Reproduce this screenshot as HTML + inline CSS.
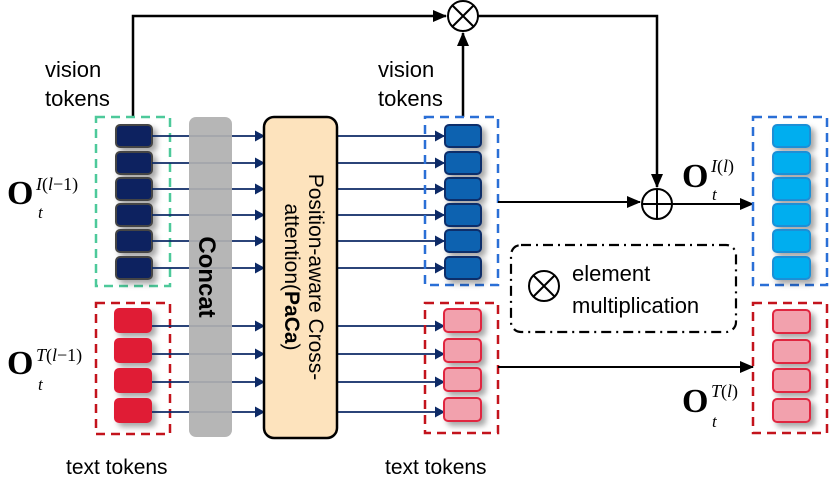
<!DOCTYPE html>
<html><head><meta charset="utf-8"><style>
html,body{margin:0;padding:0;background:#fff}
svg{display:block}
.s{font-family:"Liberation Sans",sans-serif;fill:#000}
.m{font-family:"Liberation Serif",serif;font-style:italic;fill:#000}
.O{font-family:"Liberation Serif",serif;font-weight:bold;fill:#000}
</style></head><body>
<svg width="830" height="482" viewBox="0 0 830 482" xmlns="http://www.w3.org/2000/svg">
<defs>
<marker id="an" markerWidth="10" markerHeight="11" refX="9" refY="5.5" orient="auto" markerUnits="userSpaceOnUse"><path d="M0,0 L10,5.5 L0,11 z" fill="#0d2a66"/></marker>
<marker id="ak" markerWidth="14" markerHeight="12" refX="13" refY="6" orient="auto" markerUnits="userSpaceOnUse"><path d="M0,0 L14,6 L0,12 z" fill="#000"/></marker>
<filter id="sh" x="-50%" y="-50%" width="200%" height="200%"><feDropShadow dx="4" dy="4" stdDeviation="3" flood-color="#000" flood-opacity="0.35"/></filter>
</defs>

<polyline points="133,117 133,16 446,16" fill="none" stroke="#000" stroke-width="2.5" marker-end="url(#ak)"/>
<circle cx="463" cy="16" r="15" fill="#fff" stroke="#000" stroke-width="2"/>
<line x1="453" y1="6" x2="473" y2="26" stroke="#000" stroke-width="2"/>
<line x1="473" y1="6" x2="453" y2="26" stroke="#000" stroke-width="2"/>
<line x1="463" y1="117" x2="463" y2="33" stroke="#000" stroke-width="2.5" marker-end="url(#ak)"/>
<polyline points="478,16 657,16 657,187" fill="none" stroke="#000" stroke-width="2.5" marker-end="url(#ak)"/>

<text class="s" x="45" y="77" font-size="22">vision</text>
<text class="s" x="45" y="106" font-size="22">tokens</text>
<text class="s" x="378" y="77" font-size="22">vision</text>
<text class="s" x="378" y="106" font-size="22">tokens</text>

<rect x="96" y="117" width="74" height="169" fill="none" stroke="#4dc99a" stroke-width="2.5" stroke-dasharray="9,6"/>
<rect x="96" y="303" width="74" height="131" fill="none" stroke="#c3131c" stroke-width="2.5" stroke-dasharray="9,6"/>
<g filter="url(#sh)" fill="#0b2260" stroke="#444" stroke-width="2">
<rect x="116" y="125" width="36" height="22" rx="4"/><rect x="116" y="152" width="36" height="22" rx="4"/>
<rect x="116" y="178" width="36" height="22" rx="4"/><rect x="116" y="204" width="36" height="22" rx="4"/>
<rect x="116" y="230" width="36" height="22" rx="4"/><rect x="116" y="257" width="36" height="22" rx="4"/>
</g>
<g filter="url(#sh)" fill="#e01b36">
<rect x="114" y="308" width="38" height="25" rx="5"/><rect x="114" y="338" width="38" height="25" rx="5"/>
<rect x="114" y="368" width="38" height="25" rx="5"/><rect x="114" y="398" width="38" height="25" rx="5"/>
</g>

<g stroke="#0d2a66" stroke-width="1.8" fill="none">
<line x1="152" y1="136" x2="264" y2="136" marker-end="url(#an)"/>
<line x1="152" y1="163" x2="264" y2="163" marker-end="url(#an)"/>
<line x1="152" y1="189" x2="264" y2="189" marker-end="url(#an)"/>
<line x1="152" y1="215" x2="264" y2="215" marker-end="url(#an)"/>
<line x1="152" y1="241" x2="264" y2="241" marker-end="url(#an)"/>
<line x1="152" y1="268" x2="264" y2="268" marker-end="url(#an)"/>
<line x1="152" y1="326" x2="264" y2="326" marker-end="url(#an)"/>
<line x1="152" y1="354" x2="264" y2="354" marker-end="url(#an)"/>
<line x1="152" y1="382" x2="264" y2="382" marker-end="url(#an)"/>
<line x1="152" y1="412" x2="264" y2="412" marker-end="url(#an)"/>
<line x1="337" y1="136" x2="444" y2="136" marker-end="url(#an)"/>
<line x1="337" y1="163" x2="444" y2="163" marker-end="url(#an)"/>
<line x1="337" y1="189" x2="444" y2="189" marker-end="url(#an)"/>
<line x1="337" y1="215" x2="444" y2="215" marker-end="url(#an)"/>
<line x1="337" y1="241" x2="444" y2="241" marker-end="url(#an)"/>
<line x1="337" y1="268" x2="444" y2="268" marker-end="url(#an)"/>
<line x1="337" y1="326" x2="444" y2="326" marker-end="url(#an)"/>
<line x1="337" y1="354" x2="444" y2="354" marker-end="url(#an)"/>
<line x1="337" y1="382" x2="444" y2="382" marker-end="url(#an)"/>
<line x1="337" y1="412" x2="444" y2="412" marker-end="url(#an)"/>
</g>

<rect x="189" y="117" width="43" height="320" rx="7" fill="#b0b0b0" opacity="0.92"/>
<text class="s" font-size="24" font-weight="bold" transform="translate(199,277) rotate(90)" text-anchor="middle">Concat</text>

<rect x="264" y="117" width="73" height="321" rx="10" fill="#fde3bd" stroke="#000" stroke-width="2.5"/>
<text class="s" font-size="21" transform="translate(309,277) rotate(90)" text-anchor="middle">Position-aware Cross-</text>
<text class="s" font-size="21" transform="translate(285,277) rotate(90)" text-anchor="middle">attention(<tspan font-weight="bold">PaCa</tspan>)</text>

<rect x="425" y="117" width="73" height="168" fill="none" stroke="#2a6fd6" stroke-width="2.5" stroke-dasharray="9,6"/>
<rect x="425" y="303" width="73" height="130" fill="none" stroke="#c3131c" stroke-width="2.5" stroke-dasharray="9,6"/>
<g filter="url(#sh)" fill="#0a62b0" stroke="#0c2d6b" stroke-width="2">
<rect x="445" y="125" width="36" height="22" rx="4"/><rect x="445" y="152" width="36" height="22" rx="4"/>
<rect x="445" y="178" width="36" height="22" rx="4"/><rect x="445" y="204" width="36" height="22" rx="4"/>
<rect x="445" y="230" width="36" height="22" rx="4"/><rect x="445" y="257" width="36" height="22" rx="4"/>
</g>
<g filter="url(#sh)" fill="#f2a1ad" stroke="#e0263f" stroke-width="2">
<rect x="444" y="309" width="37" height="23" rx="4"/><rect x="444" y="339" width="37" height="23" rx="4"/>
<rect x="444" y="368" width="37" height="23" rx="4"/><rect x="444" y="398" width="37" height="23" rx="4"/>
</g>

<line x1="498" y1="202" x2="640" y2="202" stroke="#000" stroke-width="2" marker-end="url(#ak)"/>
<circle cx="657" cy="204" r="15" fill="#fff" stroke="#000" stroke-width="2"/>
<line x1="642" y1="204" x2="672" y2="204" stroke="#000" stroke-width="2"/>
<line x1="657" y1="189" x2="657" y2="219" stroke="#000" stroke-width="2"/>
<line x1="672" y1="204" x2="753" y2="204" stroke="#000" stroke-width="2" marker-end="url(#ak)"/>
<line x1="498" y1="367" x2="753" y2="367" stroke="#000" stroke-width="2" marker-end="url(#ak)"/>

<rect x="753" y="117" width="74" height="168" fill="none" stroke="#2a6fd6" stroke-width="2.5" stroke-dasharray="9,6"/>
<rect x="753" y="303" width="74" height="130" fill="none" stroke="#c3131c" stroke-width="2.5" stroke-dasharray="9,6"/>
<g filter="url(#sh)" fill="#00aeef" stroke="#1a8fd6" stroke-width="2">
<rect x="773" y="125" width="37" height="22" rx="4"/><rect x="773" y="152" width="37" height="22" rx="4"/>
<rect x="773" y="178" width="37" height="22" rx="4"/><rect x="773" y="204" width="37" height="22" rx="4"/>
<rect x="773" y="230" width="37" height="22" rx="4"/><rect x="773" y="257" width="37" height="22" rx="4"/>
</g>
<g filter="url(#sh)" fill="#f2a1ad" stroke="#e0263f" stroke-width="2">
<rect x="773" y="310" width="37" height="23" rx="4"/><rect x="773" y="340" width="37" height="23" rx="4"/>
<rect x="773" y="369" width="37" height="23" rx="4"/><rect x="773" y="399" width="37" height="23" rx="4"/>
</g>

<rect x="511" y="245" width="225" height="87" rx="10" fill="none" stroke="#000" stroke-width="2.2" stroke-dasharray="10,5,2,5"/>
<circle cx="544" cy="286" r="15" fill="none" stroke="#000" stroke-width="2"/>
<line x1="534" y1="276" x2="554" y2="296" stroke="#000" stroke-width="2"/>
<line x1="554" y1="276" x2="534" y2="296" stroke="#000" stroke-width="2"/>
<text class="s" x="572" y="281" font-size="22">element</text>
<text class="s" x="572" y="313" font-size="22">multiplication</text>

<text class="O" x="7" y="204" font-size="34">O</text>
<text class="m" x="36" y="190" font-size="18">I<tspan font-style="normal">(</tspan>l<tspan font-style="normal">−1)</tspan></text>
<text class="m" x="38" y="218" font-size="17">t</text>
<text class="O" x="7" y="374" font-size="34">O</text>
<text class="m" x="36" y="361" font-size="18">T<tspan font-style="normal">(</tspan>l<tspan font-style="normal">−1)</tspan></text>
<text class="m" x="38" y="390" font-size="17">t</text>
<text class="O" x="682" y="187" font-size="34">O</text>
<text class="m" x="711" y="172" font-size="18">I<tspan font-style="normal">(</tspan>l<tspan font-style="normal">)</tspan></text>
<text class="m" x="712" y="200" font-size="17">t</text>
<text class="O" x="682" y="412" font-size="34">O</text>
<text class="m" x="711" y="397" font-size="18">T<tspan font-style="normal">(</tspan>l<tspan font-style="normal">)</tspan></text>
<text class="m" x="712" y="427" font-size="17">t</text>

<text class="s" x="66" y="474" font-size="21">text tokens</text>
<text class="s" x="385" y="474" font-size="21">text tokens</text>
</svg>
</body></html>
